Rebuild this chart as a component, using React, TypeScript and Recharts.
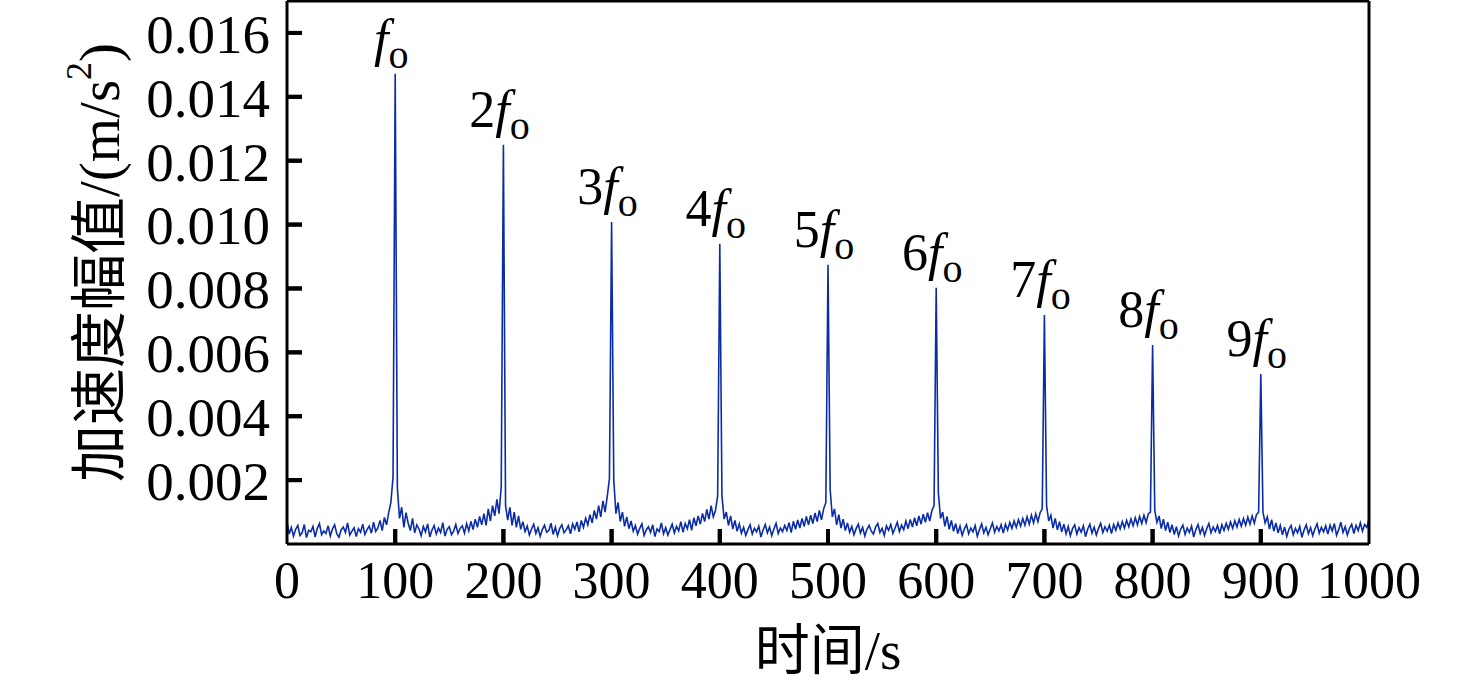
import React from 'react';
import { LineChart, Line, XAxis, YAxis, ReferenceDot, ReferenceLine } from 'recharts';

// Amplitude spectrum, one sample every 2 units of the horizontal axis (0 … 1000)
const SAMPLE_STEP = 2;

// prettier-ignore
const amplitude = [
  // 0 – 98
  0.0007, 0.00031, 0.00052, 0.00024, 0.00046, 0.00058, 0.00027, 0.00035, 0.00061, 0.0002,
  0.00043, 0.00038, 0.00055, 0.00022, 0.00049, 0.00064, 0.00029, 0.00041, 0.00033, 0.00057,
  0.00025, 0.00047, 0.0006, 0.00032, 0.00021, 0.00044, 0.00053, 0.00036, 0.00066, 0.00028,
  0.0004, 0.00051, 0.00023, 0.00048, 0.00037, 0.00062, 0.0003, 0.00045, 0.00056, 0.00034,
  0.00068, 0.00039, 0.0005, 0.00074, 0.00042, 0.00083, 0.0006, 0.00098, 0.0013, 0.0021,
  // 100 (fo)
  0.01472,
  0.00175, 0.0008, 0.00115, 0.00052, 0.00098, 0.00065, 0.00042, 0.0008, 0.00035, 0.0006,
  0.00047, 0.00026, 0.00055, 0.00038, 0.00063, 0.00022, 0.00044, 0.00058, 0.00031, 0.0005,
  0.00036, 0.00067, 0.00025, 0.00046, 0.00054, 0.00029, 0.0004, 0.00061, 0.00033, 0.00049,
  0.00057, 0.00034, 0.00064, 0.00041, 0.00071, 0.00045, 0.00078, 0.00052, 0.00086, 0.0006,
  0.00095, 0.00058, 0.0011, 0.00072, 0.0012, 0.00088, 0.0014, 0.00095, 0.0018,
  // 200 (2fo)
  0.0125,
  0.0012, 0.00075, 0.00115, 0.00058, 0.001, 0.00052, 0.00088, 0.00046, 0.0007, 0.00039,
  0.00056, 0.00028, 0.00047, 0.00062, 0.00033, 0.00051, 0.00024, 0.00045, 0.00059, 0.00037,
  0.00042, 0.00065, 0.0003, 0.00053, 0.00026, 0.00048, 0.0006, 0.00035, 0.00044, 0.00057,
  0.00032, 0.00063, 0.00046, 0.00069, 0.00038, 0.00074, 0.00052, 0.00081, 0.0006, 0.00092,
  0.00066, 0.00105, 0.00078, 0.0012, 0.00085, 0.00135, 0.001, 0.0015, 0.00205,
  // 300 (3fo)
  0.01008,
  0.002, 0.00095, 0.0013, 0.0007, 0.001, 0.00055, 0.00085, 0.00048, 0.00072, 0.0004,
  0.00058, 0.00031, 0.00049, 0.00063, 0.00027, 0.00044, 0.00054, 0.00036, 0.0006, 0.00023,
  0.00047, 0.00039, 0.00066, 0.00032, 0.00051, 0.00028, 0.00045, 0.00062, 0.00035, 0.00055,
  0.00041, 0.0007, 0.00037, 0.00064, 0.00048, 0.00076, 0.00043, 0.00082, 0.00057, 0.00088,
  0.00062, 0.00096, 0.0007, 0.00108, 0.00078, 0.0012, 0.00085, 0.00105, 0.0015,
  // 400 (4fo)
  0.0094,
  0.0015, 0.00078, 0.001, 0.00058, 0.00088, 0.00047, 0.00074, 0.0004, 0.00063, 0.00034,
  0.00052, 0.00027, 0.00045, 0.0006, 0.00031, 0.00049, 0.00038, 0.00056, 0.00022, 0.00044,
  0.00061, 0.00035, 0.00053, 0.00026, 0.00047, 0.00065, 0.00033, 0.0005, 0.00039, 0.00058,
  0.00042, 0.00067, 0.00036, 0.00071, 0.00046, 0.00075, 0.0005, 0.0008, 0.00055, 0.00086,
  0.0006, 0.0009, 0.00064, 0.00097, 0.0007, 0.00105, 0.00076, 0.0011, 0.0013,
  // 500 (5fo)
  0.00874,
  0.0017, 0.00085, 0.0011, 0.0006, 0.00092, 0.0005, 0.00078, 0.00042, 0.00066, 0.00037,
  0.00055, 0.00029, 0.00048, 0.00062, 0.00034, 0.00052, 0.00025, 0.00046, 0.00058, 0.0004,
  0.00031, 0.00054, 0.00064, 0.00036, 0.00049, 0.00027, 0.00057, 0.00043, 0.00061, 0.00033,
  0.0005, 0.00068, 0.00039, 0.00059, 0.00045, 0.00072, 0.00048, 0.00077, 0.00053, 0.00082,
  0.00057, 0.00088, 0.00062, 0.00093, 0.00068, 0.00098, 0.00072, 0.00104, 0.0012,
  // 600 (6fo)
  0.00802,
  0.0016, 0.0008, 0.001, 0.00055, 0.00086, 0.00046, 0.00074, 0.0004, 0.00064, 0.00033,
  0.00056, 0.00027, 0.00047, 0.00061, 0.00032, 0.0005, 0.00038, 0.00058, 0.00024, 0.00045,
  0.00063, 0.00035, 0.00052, 0.00029, 0.00048, 0.00066, 0.00037, 0.00055, 0.00041, 0.0006,
  0.00034, 0.00062, 0.00044, 0.00068, 0.00049, 0.00072, 0.00052, 0.00076, 0.00056, 0.0008,
  0.00059, 0.00085, 0.00062, 0.0009, 0.00066, 0.00094, 0.0007, 0.00098, 0.0011,
  // 700 (7fo)
  0.00717,
  0.0012, 0.00072, 0.0009, 0.0005, 0.0008, 0.00044, 0.0007, 0.00038, 0.00062, 0.00032,
  0.00055, 0.00026, 0.00048, 0.0006, 0.00031, 0.00051, 0.00037, 0.00057, 0.00023, 0.00046,
  0.00062, 0.00034, 0.00053, 0.00028, 0.00049, 0.00065, 0.00036, 0.00054, 0.0004, 0.00059,
  0.00033, 0.00061, 0.00043, 0.00066, 0.00047, 0.0007, 0.0005, 0.00074, 0.00054, 0.00078,
  0.00057, 0.00082, 0.0006, 0.00086, 0.00064, 0.0009, 0.00067, 0.00094, 0.001,
  // 800 (8fo)
  0.00623,
  0.00105, 0.00068, 0.00088, 0.00048, 0.00078, 0.00042, 0.00068, 0.00036, 0.0006, 0.0003,
  0.00054, 0.00025, 0.00047, 0.00059, 0.0003, 0.0005, 0.00036, 0.00056, 0.00022, 0.00045,
  0.00061, 0.00033, 0.00052, 0.00027, 0.00048, 0.00064, 0.00035, 0.00053, 0.00039, 0.00058,
  0.00032, 0.0006, 0.00042, 0.00065, 0.00046, 0.00069, 0.00049, 0.00073, 0.00053, 0.00077,
  0.00056, 0.0008, 0.00059, 0.00084, 0.00062, 0.00088, 0.00065, 0.00092, 0.001,
  // 900 (9fo)
  0.00532,
  0.001, 0.00066, 0.00085, 0.00047, 0.00076, 0.0004, 0.00066, 0.00035, 0.00058, 0.00029,
  0.00053, 0.00024, 0.00046, 0.00058, 0.00029, 0.00049, 0.00035, 0.00055, 0.00021, 0.00044,
  0.0006, 0.00032, 0.00051, 0.00026, 0.00047, 0.00063, 0.00034, 0.00052, 0.00038, 0.00057,
  0.00031, 0.00059, 0.00041, 0.00064, 0.00027, 0.00045, 0.00068, 0.00036, 0.00054, 0.00028,
  0.00049, 0.00062, 0.00033, 0.00058, 0.00042, 0.00066, 0.0004, 0.00061, 0.00052, 0.00078,
];

const xTicks = [0, 100, 200, 300, 400, 500, 600, 700, 800, 900, 1000];
const yTicks = [0.002, 0.004, 0.006, 0.008, 0.01, 0.012, 0.014, 0.016];
const xDomain = [0, 1000];
const yDomain = [0, 0.017];

// harmonic labels: order prefix and where the peak sits
const harmonicOrder = ['', '2', '3', '4', '5', '6', '7', '8', '9'];
const harmonicAt = [100, 200, 300, 400, 500, 600, 700, 800, 900];

const spectrum = amplitude.map((a, i) => ({ t: i * SAMPLE_STEP, a }));

const FONT = '"Liberation Serif", "Times New Roman", "Noto Sans CJK SC", serif';
const LINE_COLOR = '#0a2ca8';
const TICK_GAP = 17;
const TICK_LEN = 15;
const TICK_W = 4;

const YTick = (props: any) => {
  const x = Number(props.x);
  const y = Number(props.y);
  return (
    <g>
      <rect x={x + TICK_GAP} y={y - TICK_W / 2} width={TICK_LEN} height={TICK_W} fill="#000" />
      <text x={x} y={y} dy="0.36em" textAnchor="end" fontFamily={FONT} fontSize={55} fill="#000">
        {Number(props.payload.value).toFixed(3)}
      </text>
    </g>
  );
};

const XTick = (props: any) => {
  const x = Number(props.x);
  const y = Number(props.y);
  const isEdge = props.index === 0 || props.index === xTicks.length - 1;
  return (
    <g>
      {!isEdge && (
        <rect
          x={x - TICK_W / 2}
          y={y - TICK_GAP - TICK_LEN}
          width={TICK_W}
          height={TICK_LEN}
          fill="#000"
        />
      )}
      <text x={x} y={y} dy="0.71em" textAnchor="middle" fontFamily={FONT} fontSize={52} fill="#000">
        {props.payload.value}
      </text>
    </g>
  );
};

// inward tick marks, drawn from the scaled anchor point
const YTickMark = (props: any) => (
  <line
    x1={props.cx}
    x2={props.cx + TICK_LEN}
    y1={props.cy}
    y2={props.cy}
    stroke="#000"
    strokeWidth={TICK_W}
  />
);

const XTickMark = (props: any) => (
  <line
    x1={props.cx}
    x2={props.cx}
    y1={props.cy}
    y2={props.cy - TICK_LEN}
    stroke="#000"
    strokeWidth={TICK_W}
  />
);

const HarmonicLabel = (props: any) => {
  const { cx, cy, order } = props;
  return (
    <text x={cx - 4} y={cy - 18} textAnchor="middle" fontFamily={FONT} fontSize={52} fill="#000">
      {order}
      <tspan fontStyle="italic">f</tspan>
      <tspan fontSize={40} dy={12}>o</tspan>
    </text>
  );
};

const YTitle = (props: any) => {
  const { viewBox } = props;
  const cx = viewBox.x + 99;
  const cy = viewBox.y + viewBox.height / 2 - 10;
  return (
    <text
      transform={`translate(${cx},${cy}) rotate(-90)`}
      textAnchor="middle"
      dominantBaseline="central"
      fontFamily={FONT}
      fontSize={57}
      fill="#000"
    >
      加速度幅值/(m/s
      <tspan fontSize={36} dy={-20}>2</tspan>
      <tspan dy={20}>)</tspan>
    </text>
  );
};

const XTitle = (props: any) => {
  const { viewBox } = props;
  return (
    <text
      x={viewBox.x + viewBox.width / 2}
      y={viewBox.y + 125}
      textAnchor="middle"
      fontFamily={FONT}
      fontSize={55}
      fill="#000"
    >
      时间/s
    </text>
  );
};

const axisLine = { stroke: '#000', strokeWidth: 3 };

export default function App() {
  return (
    <div style={{ position: 'absolute', left: 0, top: 0, background: '#fff' }}>
      <LineChart
        width={1476}
        height={685}
        data={spectrum}
        margin={{ top: 1, right: 107, bottom: 0, left: 0 }}
      >
        <XAxis
          dataKey="t"
          type="number"
          domain={xDomain}
          ticks={xTicks}
          interval={0}
          height={141}
          tickSize={0}
          tickMargin={TICK_GAP}
          tick={<XTick />}
          axisLine={axisLine}
          tickLine={false}
          label={<XTitle />}
        />
        <YAxis
          type="number"
          domain={yDomain}
          ticks={yTicks}
          interval={0}
          width={287}
          tickSize={0}
          tickMargin={TICK_GAP}
          tick={<YTick />}
          axisLine={axisLine}
          tickLine={false}
          label={<YTitle />}
        />
        <Line
          type="linear"
          dataKey="a"
          stroke={LINE_COLOR}
          strokeWidth={1.6}
          dot={false}
          activeDot={false}
          isAnimationActive={false}
        />
        {/* closing the frame on top and right */}
        <ReferenceLine y={yDomain[1]} stroke="#000" strokeWidth={3} ifOverflow="visible" />
        <ReferenceLine x={xDomain[1]} stroke="#000" strokeWidth={3} ifOverflow="visible" />
        {yTicks.map((v) => (
          <ReferenceDot
            key={`yt-${v}`}
            x={xDomain[0]}
            y={v}
            r={0}
            ifOverflow="visible"
            shape={(p: any) => <YTickMark {...p} />}
          />
        ))}
        {xTicks.slice(1, -1).map((t) => (
          <ReferenceDot
            key={`xt-${t}`}
            x={t}
            y={yDomain[0]}
            r={0}
            ifOverflow="visible"
            shape={(p: any) => <XTickMark {...p} />}
          />
        ))}
        {harmonicAt.map((t, i) => (
          <ReferenceDot
            key={t}
            x={t}
            y={amplitude[t / SAMPLE_STEP]}
            r={0}
            ifOverflow="visible"
            shape={(p: any) => <HarmonicLabel {...p} order={harmonicOrder[i]} />}
          />
        ))}
      </LineChart>
    </div>
  );
}
